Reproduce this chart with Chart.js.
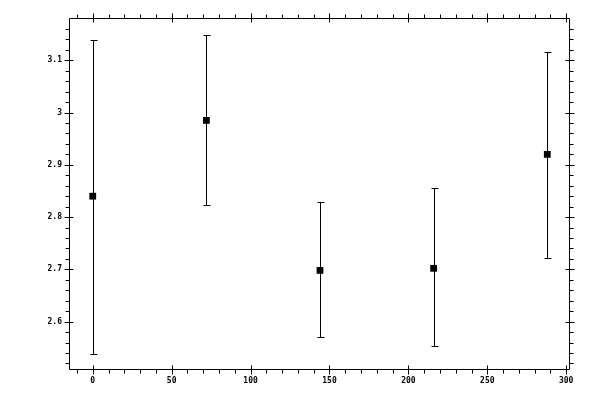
<!DOCTYPE html>
<html>
<head>
    <title>Error bars</title>
    <script src="https://cdn.jsdelivr.net/npm/chart.js"></script>
    <style>
        html, body { margin: 0; padding: 0; background: #ffffff; }
        canvas { display: block; }
    </style>
</head>
<body>
    <canvas id="chart" width="600" height="400"></canvas>
    <script>
        // x positions, means and error bar ends
        var xValues = [0, 72, 144, 216, 288];
        var yValues = [2.84, 2.985, 2.698, 2.702, 2.92];
        var yLow = [2.539, 2.824, 2.571, 2.554, 2.722];
        var yHigh = [3.138, 3.148, 2.828, 2.855, 3.116];

        var xMajor = 50, xMinor = 10;
        var yMajor = 0.1, yMinor = 0.02;

        function isMajor(v, step) {
            var q = v / step;
            return Math.abs(q - Math.round(q)) < 1e-6;
        }

        // error bars, drawn through the scales
        var errorBars = {
            id: 'errorBars',
            afterDatasetsDraw: function(chart) {
                var ctx = chart.ctx, xs = chart.scales.x, ys = chart.scales.y;
                ctx.save();
                ctx.strokeStyle = '#000';
                ctx.lineWidth = 1;
                for (var i = 0; i < xValues.length; i++) {
                    var px = Math.round(xs.getPixelForValue(xValues[i])) + 0.5;
                    var top = Math.round(ys.getPixelForValue(yHigh[i])) + 0.5;
                    var bot = Math.round(ys.getPixelForValue(yLow[i])) + 0.5;
                    ctx.beginPath();
                    ctx.moveTo(px, top); ctx.lineTo(px, bot);
                    ctx.moveTo(px - 3, top); ctx.lineTo(px + 4, top);
                    ctx.moveTo(px - 3, bot); ctx.lineTo(px + 4, bot);
                    ctx.stroke();
                }
                ctx.restore();
            }
        };

        // frame with ticks on all four sides
        var frame = {
            id: 'frame',
            beforeDatasetsDraw: function(chart) {
                var ctx = chart.ctx, a = chart.chartArea;
                var xs = chart.scales.x, ys = chart.scales.y;
                var L = a.left - 0.5, R = a.right - 0.5, T = a.top - 0.5, B = a.bottom - 0.5;
                ctx.save();
                ctx.strokeStyle = '#000';
                ctx.lineWidth = 1;
                ctx.beginPath();
                ctx.rect(L, T, R - L, B - T);
                xs.ticks.forEach(function(t) {
                    var p = Math.round(xs.getPixelForValue(t.value)) + 0.5;
                    if (isMajor(t.value, xMajor)) {
                        ctx.moveTo(p, B - 4); ctx.lineTo(p, B + 5);
                        ctx.moveTo(p, T + 4); ctx.lineTo(p, T - 5);
                    } else {
                        ctx.moveTo(p, B); ctx.lineTo(p, B + 4);
                        ctx.moveTo(p, T); ctx.lineTo(p, T - 4);
                    }
                });
                ys.ticks.forEach(function(t) {
                    var p = Math.round(ys.getPixelForValue(t.value)) + 0.5;
                    if (isMajor(t.value, yMajor)) {
                        ctx.moveTo(L + 4, p); ctx.lineTo(L - 5, p);
                        ctx.moveTo(R - 4, p); ctx.lineTo(R + 5, p);
                    } else {
                        ctx.moveTo(L, p); ctx.lineTo(L - 4, p);
                        ctx.moveTo(R, p); ctx.lineTo(R + 4, p);
                    }
                });
                ctx.stroke();
                ctx.restore();
            }
        };

        var tickFont = { family: 'DejaVu Sans Mono', size: 8, weight: 'bold' };

        new Chart(document.getElementById('chart').getContext('2d'), {
            type: 'scatter',
            data: {
                datasets: [{
                    data: xValues.map(function(x, i) { return { x: x, y: yValues[i] }; }),
                    pointStyle: 'rect',
                    pointRadius: 4.8,
                    pointBorderWidth: 0,
                    backgroundColor: '#000',
                    borderColor: '#000'
                }]
            },
            options: {
                responsive: false,
                animation: false,
                devicePixelRatio: 1,
                layout: { padding: { left: 0, right: 30, top: 19, bottom: 0 } },
                plugins: { legend: { display: false }, tooltip: { enabled: false } },
                scales: {
                    x: {
                        type: 'linear',
                        min: -14.4,
                        max: 302.4,
                        grid: { display: false, drawTicks: false },
                        border: { display: false },
                        afterFit: function(s) { s.height = 30; },
                        ticks: {
                            stepSize: xMinor,
                            autoSkip: false,
                            includeBounds: false,
                            maxRotation: 0,
                            padding: 6,
                            color: '#000',
                            font: tickFont,
                            callback: function(v) { return isMajor(v, xMajor) ? String(Math.round(v)) : ''; }
                        }
                    },
                    y: {
                        type: 'linear',
                        min: 2.5075,
                        max: 3.179,
                        grid: { display: false, drawTicks: false },
                        border: { display: false },
                        afterFit: function(s) { s.width = 70; },
                        ticks: {
                            stepSize: yMinor,
                            autoSkip: false,
                            includeBounds: false,
                            padding: 8,
                            color: '#000',
                            font: tickFont,
                            callback: function(v) { return isMajor(v, yMajor) ? String(Number(v.toFixed(2))) : ''; }
                        }
                    }
                }
            },
            plugins: [frame, errorBars]
        });
    </script>
</body>
</html>
